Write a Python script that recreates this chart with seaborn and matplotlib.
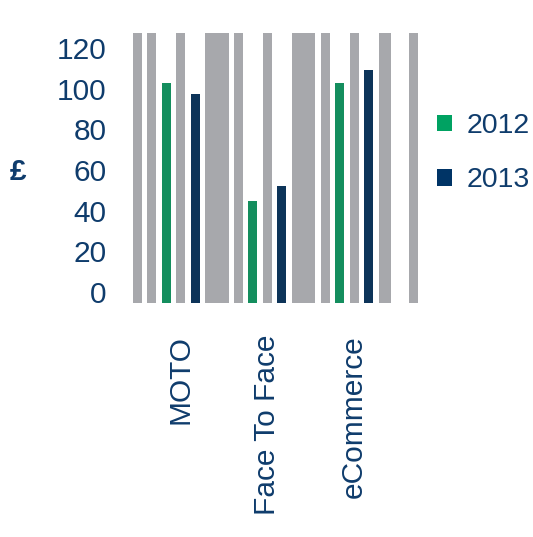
import matplotlib
matplotlib.use("Agg")
import matplotlib.pyplot as plt
from matplotlib.patches import Patch
import seaborn as sns
import pandas as pd

categories = ["MOTO", "Face To Face", "eCommerce"]
years = ["2012", "2013"]
values_2012 = [103, 44.6, 103]
values_2013 = [97.2, 52, 109]
y_ticks = [0, 20, 40, 60, 80, 100, 120]
y_label = "£"

# decorative grey background stripes (x-spans in category units)
stripes = [(-0.558, -0.451), (-0.393, -0.289), (-0.058, 0.046), (0.277, 0.555),
           (0.613, 0.717), (0.948, 1.052), (1.283, 1.549), (1.618, 1.723),
           (1.954, 2.058), (2.289, 2.428), (2.636, 2.740)]

TEXT = "#0F3C6C"
GREEN = "#00A262"
NAVY = "#003466"
GREY = "#A7A8AC"

df = pd.DataFrame({
    "category": categories * 2,
    "year": [years[0]] * 3 + [years[1]] * 3,
    "value": values_2012 + values_2013,
})

sns.set_theme(style="white")
plt.rcParams["font.family"] = ["Liberation Sans", "DejaVu Sans"]

FS = 21.5

fig = plt.figure(figsize=(5.33, 5.37), dpi=100)
ax = fig.add_axes([0.249, 0.4358, 0.535, 0.5027])

for a, b in stripes:
    ax.axvspan(a, b, color=GREY, lw=0, zorder=0)

sns.barplot(data=df, x="category", y="value", hue="year", order=categories,
            hue_order=years, palette=[GREEN, NAVY], width=0.67, gap=0.69,
            ax=ax, legend=False, zorder=2, linewidth=0)

ymin, ymax = -5.4, 127.4
for p in ax.patches:
    h = p.get_height()
    p.set_y(ymin)
    p.set_height(h - ymin)

ax.set_ylim(ymin, ymax)
ax.set_xlim(-0.558, 2.740)
ax.set_yticks(y_ticks)
ax.set_yticklabels([str(t) for t in y_ticks], fontsize=FS, color=TEXT)
ax.set_xticks(range(len(categories)))
ax.set_xticklabels(categories, rotation=90, fontsize=FS, color=TEXT,
                   va="top", ha="center")
ax.tick_params(axis="y", length=0, pad=19)
ax.tick_params(axis="x", length=0, pad=23)
for s in ax.spines.values():
    s.set_visible(False)
ax.set_xlabel("")
ax.set_ylabel(y_label, fontsize=FS, color=TEXT, fontweight="bold", rotation=0,
              va="center", ha="center")
ax.yaxis.set_label_coords(-0.402, 0.485)

handles = [Patch(facecolor=GREEN, lw=0), Patch(facecolor=NAVY, lw=0)]
ax.legend(handles, years, loc="center left", bbox_to_anchor=(1.028, 0.555),
          frameon=False, fontsize=20.5, labelcolor=TEXT, handlelength=0.52,
          handleheight=0.52, handletextpad=0.5, labelspacing=1.0,
          borderaxespad=0)

fig.savefig("out.png", dpi=100, facecolor="white")
